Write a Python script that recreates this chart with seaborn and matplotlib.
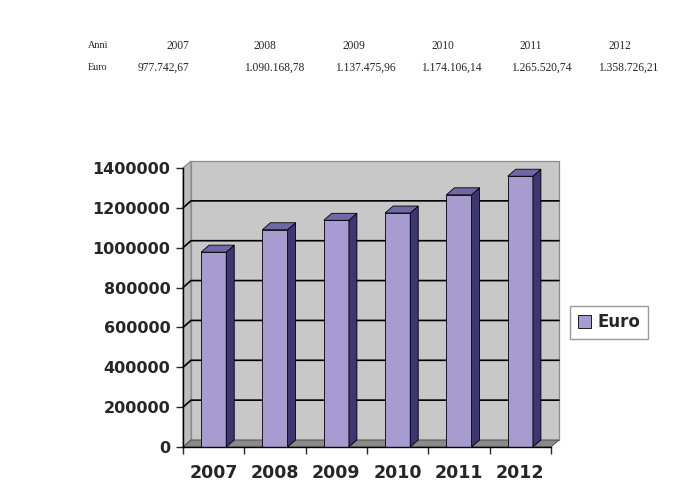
import matplotlib
matplotlib.use('Agg')
import matplotlib.pyplot as plt
import seaborn as sns
import numpy as np
from matplotlib.patches import Polygon, Rectangle

# data
anni = ['2007', '2008', '2009', '2010', '2011', '2012']
euro = [977742.67, 1090168.78, 1137475.96, 1174106.14, 1265520.74, 1358726.21]
y_ticks = [0, 200000, 400000, 600000, 800000, 1000000, 1200000, 1400000]

# colours
front_col = '#a79bd0'
side_col = '#3e3573'
top_col = '#7067a8'
wall_col = '#c8c8c8'
floor_col = '#8a8a8a'


def fmt_it(v):
    # italian number format 1.234.567,89
    s = f'{v:,.2f}'
    return s.replace(',', 'X').replace('.', ',').replace('X', '.')


sns.set_style('white')
fig = plt.figure(figsize=(7, 5), dpi=100)
ax = fig.add_axes([183 / 700, 53 / 500, 368 / 700, 279 / 500])
ax.set_facecolor('none')

sns.barplot(x=anni, y=euro, color=front_col, saturation=1, width=0.41,
            edgecolor='black', linewidth=0.6, ax=ax, zorder=3)

ax.set_xlim(-0.5, 5.5)
ax.set_ylim(0, 1400000)

# depth offset (pixels -> data units)
dpx, dpy = 8, 7
dx = dpx / (368) * 6
dy = dpy / (279) * 1400000

# back wall, left wall and floor
x0, x1 = -0.5, 5.5
ax.add_patch(Polygon([(x0 + dx, dy), (x1 + dx, dy), (x1 + dx, 1400000 + dy), (x0 + dx, 1400000 + dy)],
                     closed=True, facecolor=wall_col, edgecolor='#8c8c8c', lw=0.9, clip_on=False, zorder=0))
ax.add_patch(Polygon([(x0, 0), (x0 + dx, dy), (x0 + dx, 1400000 + dy), (x0, 1400000)],
                     closed=True, facecolor='#bcbcbc', edgecolor='#8c8c8c', lw=0.9, clip_on=False, zorder=0))
ax.add_patch(Polygon([(x0, 0), (x1, 0), (x1 + dx, dy), (x0 + dx, dy)],
                     closed=True, facecolor=floor_col, edgecolor='#444444', lw=0.6, clip_on=False, zorder=1))

# gridlines on the back wall (not on the top edge)
for v in y_ticks[1:-1]:
    ax.plot([x0, x0 + dx, x1 + dx], [v, v + dy, v + dy], color='black', lw=1.2,
            clip_on=False, zorder=1)

# 3d faces of the bars
for p in ax.patches[:]:
    if not isinstance(p, Rectangle):
        continue
    bx, bw, bh = p.get_x(), p.get_width(), p.get_height()
    if bh < 1000:
        continue
    side = Polygon([(bx + bw, 0), (bx + bw + dx, dy), (bx + bw + dx, bh + dy), (bx + bw, bh)],
                   closed=True, facecolor=side_col, edgecolor='black', lw=0.6, zorder=3, clip_on=False)
    top = Polygon([(bx, bh), (bx + bw, bh), (bx + bw + dx, bh + dy), (bx + dx, bh + dy)],
                  closed=True, facecolor=top_col, edgecolor='black', lw=0.6, zorder=3, clip_on=False)
    ax.add_patch(side)
    ax.add_patch(top)

# axes styling
for s in ['top', 'right']:
    ax.spines[s].set_visible(False)
for s in ['left', 'bottom']:
    ax.spines[s].set_color('black')
    ax.spines[s].set_linewidth(1.0)
    ax.spines[s].set_zorder(4)

ax.set_yticks(y_ticks)
ax.set_yticklabels([str(v) for v in y_ticks], fontsize=11.5, fontweight='bold')
ax.tick_params(axis='y', direction='out', length=5, width=1, pad=4, left=True)
ax.set_xticks(range(len(anni)))
ax.set_xticklabels(anni, fontsize=12.5, fontweight='bold')
ax.tick_params(axis='x', which='major', length=0, pad=12)
ax.set_xticks(np.arange(-0.5, 6, 1), minor=True)
ax.tick_params(axis='x', which='minor', direction='out', length=5, width=1, bottom=True)
ax.set_xlabel('')
ax.set_ylabel('')

# legend
handle = Rectangle((0, 0), 1, 1, facecolor=front_col, edgecolor='black', lw=0.6)
leg = fig.legend([handle], ['Euro'], loc='center left', bbox_to_anchor=(570 / 700, 1 - 322 / 500),
                 prop={'weight': 'bold', 'size': 12}, frameon=True, fancybox=False,
                 handlelength=0.8, handleheight=0.8, handletextpad=0.4, borderpad=0.45,
                 borderaxespad=0)
leg.get_frame().set_edgecolor('#808080')
leg.get_frame().set_linewidth(1.0)

# table at top
serif = 'Liberation Serif'
fig.text(88 / 700, 1 - 46 / 500, 'Anni', fontsize=7.3, family=serif, va='center')
fig.text(88 / 700, 1 - 68 / 500, 'Euro', fontsize=7.3, family=serif, va='center')
year_x = [178, 265, 354, 443, 531, 620]
val_x = [163, 274, 365, 451, 541, 628]
for a, v, xa, xv in zip(anni, euro, year_x, val_x):
    fig.text(xa / 700, 1 - 46 / 500, a, fontsize=8.3, family=serif, ha='center', va='center')
    fig.text(xv / 700, 1 - 68 / 500, fmt_it(v), fontsize=8.3, family=serif, ha='center', va='center')

fig.savefig('out.png', dpi=100)
